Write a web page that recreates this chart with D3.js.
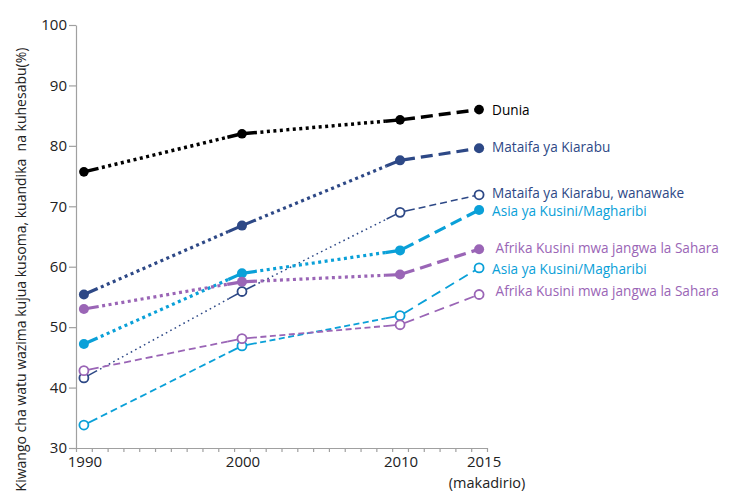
<!DOCTYPE html>
<html>
<head>
<meta charset="utf-8">
<script src="https://cdn.jsdelivr.net/npm/d3@7"></script>
<style>
	body { margin: 0; background: #fff; }
	svg { font-family: "Open Sans", sans-serif; }
	text { white-space: pre; }
</style>
</head>
<body>
<svg id="chart"></svg>
<script>
// values (percent)
const years = [1990, 2000, 2010, 2015];
const dunia = [75.7, 82.0, 84.3, 86.0];
const arab = [55.4, 66.8, 77.6, 79.6];
const arabWomen = [41.6, 55.9, 69.0, 71.9];
const swAsia = [47.2, 58.9, 62.7, 69.4];
const ssAfrica = [53.0, 57.5, 58.7, 62.9];
const swAsiaWomen = [33.8, 46.9, 51.9, 59.8];
const ssAfricaWomen = [42.8, 48.1, 50.4, 55.4];

const seriesNames = [
	"Dunia",
	"Mataifa ya Kiarabu",
	"Mataifa ya Kiarabu, wanawake",
	"Asia ya Kusini/Magharibi",
	" Afrika Kusini mwa jangwa la Sahara",
	"Asia ya Kusini/Magharibi",
	" Afrika Kusini mwa jangwa la Sahara"
];
const yTicks = [30, 40, 50, 60, 70, 80, 90, 100];
const xLabels = [1990, 2000, 2010, 2015];
const yTitle = "Kiwango cha watu wazima kujua kusoma, kuandika  na kuhesabu(%)";
const estLabel = "(makadirio)";

const w = 750, h = 501;
const navy = "#2d4886", cyan = "#0aa0d8", purple = "#9a65b6";

// line styles per segment (1990-2000, 2000-2010, 2010-2015)
const dotThick = "3,3.5", dashThick = "12,6";
const dotFine = "1.6,3.4", dashS = "7,4", dashM = "6,3.5", dashL = "10,6";

const series = [
	{ vals: dunia, color: "#000", text: "#000", filled: true, sw: 3.5, r: 4.8, dash: [dotThick, dotThick, dashThick], dy: 1 },
	{ vals: arab, color: navy, text: navy, filled: true, sw: 3.2, r: 5, dash: [dotThick, dotThick, dashThick], dy: -1.5 },
	{ vals: arabWomen, color: navy, text: navy, filled: false, sw: 1.5, r: 4.5, dash: [dotFine, dotFine, dashS], dy: -2 },
	{ vals: swAsia, color: cyan, text: cyan, filled: true, sw: 3.2, r: 5, dash: [dotThick, dotThick, dashThick], dy: 1.5 },
	{ vals: ssAfrica, color: purple, text: purple, filled: true, sw: 3.2, r: 5, dash: [dotThick, dotThick, dashThick], dy: -1 },
	{ vals: swAsiaWomen, color: cyan, text: cyan, filled: false, sw: 1.8, r: 4.5, dash: [dashS, dashM, dashL], dy: 1 },
	{ vals: ssAfricaWomen, color: purple, text: purple, filled: false, sw: 1.8, r: 4.5, dash: [dashS, dashM, dashL], dy: -3.5 }
];

const svg = d3.select("#chart").attr("width", w).attr("height", h);

const x = d3.scaleLinear().domain([1989.5, 2015.5]).range([76, 487]);
const y = d3.scaleLinear().domain([30, 100]).range([448, 25]);

// y axis
const yAxis = svg.append("g")
	.attr("transform", `translate(${x(1989.5)},0)`)
	.call(d3.axisLeft(y).tickValues(yTicks).tickSize(7).tickSizeOuter(0).tickPadding(2));
yAxis.select(".domain").attr("stroke", "#a0a0a0").attr("stroke-width", 1.2);
yAxis.selectAll(".tick line").attr("stroke", "#a0a0a0").attr("stroke-width", 1.2);
yAxis.selectAll(".tick text").attr("font-size", "15px").attr("font-family", "Open Sans").attr("fill", "#222");

// x axis: minor ticks between years
const halfYears = d3.range(1989.5, 2015.6, 1);
const xAxis = svg.append("g")
	.attr("transform", `translate(0,${y(30)})`)
	.call(d3.axisBottom(x).tickValues(halfYears).tickSize(4).tickSizeOuter(0).tickFormat(""));
xAxis.select(".domain").attr("stroke", "#a0a0a0").attr("stroke-width", 1.2);
xAxis.selectAll(".tick line").attr("stroke", "#a0a0a0").attr("stroke-width", 1.2);

svg.append("g").selectAll("text")
	.data(xLabels)
	.enter()
	.append("text")
	.text(d => d)
	.attr("x", d => x(d) + (d === 2015 ? 5 : 1))
	.attr("y", y(30) + 19)
	.attr("text-anchor", "middle")
	.attr("font-size", "15px")
	.attr("fill", "#222");

svg.append("text")
	.text(estLabel)
	.attr("x", x(2015) + 8)
	.attr("y", y(30) + 40)
	.attr("text-anchor", "middle")
	.attr("font-size", "14.5px")
	.attr("fill", "#222");

svg.append("text")
	.text(yTitle)
	.attr("transform", `translate(26,${(y(100) + y(30)) / 2 + 33}) rotate(-90)`)
	.attr("text-anchor", "middle")
	.attr("font-size", "14px")
	.attr("fill", "#222");

// lines
const stub = 15;
const lines = svg.append("g");

function seg(p0, p1, s, dash, stubStart, stubEnd) {
	const dx = p1[0] - p0[0], dy = p1[1] - p0[1];
	const L = Math.hypot(dx, dy);
	const ux = dx / L, uy = dy / L;
	let a = p0, b = p1;
	if (stubStart) {
		a = [p0[0] + ux * stub, p0[1] + uy * stub];
		lines.append("line")
			.attr("x1", p0[0]).attr("y1", p0[1]).attr("x2", a[0]).attr("y2", a[1])
			.attr("stroke", s.color).attr("stroke-width", s.sw);
	}
	if (stubEnd) {
		b = [p1[0] - ux * stub, p1[1] - uy * stub];
		lines.append("line")
			.attr("x1", b[0]).attr("y1", b[1]).attr("x2", p1[0]).attr("y2", p1[1])
			.attr("stroke", s.color).attr("stroke-width", s.sw);
	}
	const first = +dash.split(",")[0];
	lines.append("line")
		.attr("x1", a[0]).attr("y1", a[1]).attr("x2", b[0]).attr("y2", b[1])
		.attr("stroke", s.color).attr("stroke-width", s.sw)
		.attr("stroke-dasharray", dash)
		.attr("stroke-dashoffset", first);
}

series.forEach(s => {
	const pts = years.map((yr, i) => [x(yr), y(s.vals[i])]);
	for (let i = 0; i < pts.length - 1; i++) {
		const last = i === pts.length - 2;
		seg(pts[i], pts[i + 1], s, s.dash[i], true, !last);
	}
});

// markers
series.forEach(s => {
	svg.append("g").selectAll("circle")
		.data(s.vals)
		.enter()
		.append("circle")
		.attr("cx", (d, i) => x(years[i]))
		.attr("cy", d => y(d))
		.attr("r", s.r)
		.attr("fill", s.filled ? s.color : "#fff")
		.attr("stroke", s.color)
		.attr("stroke-width", s.filled ? 0 : 1.8);
});

// end labels
svg.append("g").selectAll("text")
	.data(series)
	.enter()
	.append("text")
	.text((d, i) => seriesNames[i])
	.attr("x", x(2015) + 13)
	.attr("y", d => y(d.vals[3]) + d.dy)
	.attr("dy", "0.35em")
	.attr("font-size", "13.6px")
	.attr("fill", d => d.text);
</script>
</body>
</html>
